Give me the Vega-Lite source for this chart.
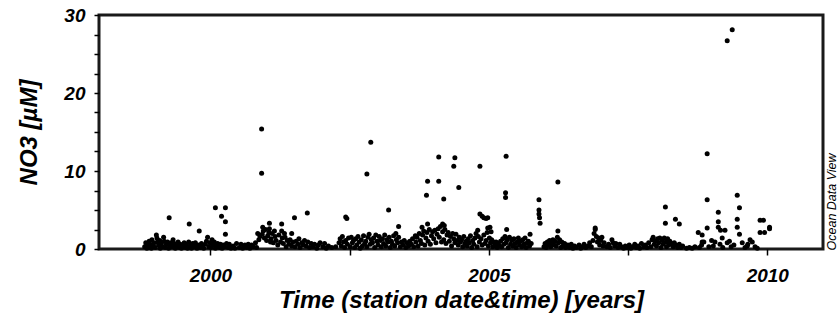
{
"$schema": "https://vega.github.io/schema/vega-lite/v6.json",
"width": 724, "height": 234,
"autosize": {"type": "none"},
"padding": {"left": 99, "top": 15, "right": 15, "bottom": 70},
"background": "white",
"config": {"view": {"stroke": "#1a1a1a", "strokeWidth": 3}, "font": "Liberation Sans"},
"data": {"values": [
{"t":2000.92,"v":15.4},{"t":2000.92,"v":9.7},{"t":2002.88,"v":13.7},{"t":2002.81,"v":9.6},{"t":2004.10,"v":11.8},{"t":2004.39,"v":11.7},{"t":2004.37,"v":10.6},{"t":2004.84,"v":10.6},{"t":2005.31,"v":11.9},{"t":2005.30,"v":7.2},{"t":2005.30,"v":6.6},{"t":2006.24,"v":8.6},{"t":2005.90,"v":6.3},{"t":2005.90,"v":5.0},{"t":2005.90,"v":4.5},{"t":2005.91,"v":4.0},{"t":2005.92,"v":3.3},{"t":2003.88,"v":6.9},{"t":2003.90,"v":8.7},{"t":2004.10,"v":8.7},{"t":2004.19,"v":6.4},{"t":2004.46,"v":7.9},{"t":2003.20,"v":5.0},{"t":2002.43,"v":4.1},{"t":2002.45,"v":3.9},{"t":2004.84,"v":4.5},{"t":2004.88,"v":4.2},{"t":2004.91,"v":4.0},{"t":2004.95,"v":3.9},{"t":2004.98,"v":4.0},{"t":2003.38,"v":2.9},{"t":2003.33,"v":2.0},{"t":2003.80,"v":2.8},{"t":2003.90,"v":3.2},{"t":2004.17,"v":3.2},{"t":2004.20,"v":3.0},{"t":2004.80,"v":2.4},{"t":2004.98,"v":2.7},{"t":2005.02,"v":2.8},{"t":2005.04,"v":2.2},{"t":2005.32,"v":2.5},{"t":2005.74,"v":1.9},{"t":2006.24,"v":2.3},{"t":2006.91,"v":2.7},{"t":2008.92,"v":12.2},{"t":2008.92,"v":6.3},{"t":2008.17,"v":5.4},{"t":2008.17,"v":3.3},{"t":2008.35,"v":3.8},{"t":2008.42,"v":3.2},{"t":2008.76,"v":2.1},{"t":2008.83,"v":1.8},{"t":2008.83,"v":0.9},{"t":2008.92,"v":2.7},{"t":2009.12,"v":4.7},{"t":2009.12,"v":3.5},{"t":2009.12,"v":2.8},{"t":2009.16,"v":2.4},{"t":2009.24,"v":2.4},{"t":2009.06,"v":0.9},{"t":2009.19,"v":1.4},{"t":2009.28,"v":0.8},{"t":2009.46,"v":6.9},{"t":2009.50,"v":5.3},{"t":2009.46,"v":3.8},{"t":2009.46,"v":2.8},{"t":2009.50,"v":1.9},{"t":2009.69,"v":1.2},{"t":2009.64,"v":0.4},{"t":2009.87,"v":3.7},{"t":2009.93,"v":3.7},{"t":2009.87,"v":2.1},{"t":2009.95,"v":2.1},{"t":2010.04,"v":2.8},{"t":2010.04,"v":2.6},{"t":2009.37,"v":28.1},{"t":2009.28,"v":26.7},{"t":1999.26,"v":4.0},{"t":1999.62,"v":3.2},{"t":1999.80,"v":2.3},{"t":2000.09,"v":5.3},{"t":2000.27,"v":5.3},{"t":2000.20,"v":4.2},{"t":2000.27,"v":3.5},{"t":2000.27,"v":1.9},{"t":2000.85,"v":2.0},{"t":2000.94,"v":2.8},{"t":2001.06,"v":3.3},{"t":2001.06,"v":2.6},{"t":2001.15,"v":2.3},{"t":2001.28,"v":3.2},{"t":2001.28,"v":2.3},{"t":2001.33,"v":2.0},{"t":2001.51,"v":4.0},{"t":2001.46,"v":2.0},{"t":2001.74,"v":4.6},
{"t":1998.82,"v":0.3},{"t":1998.84,"v":0.8},{"t":1998.86,"v":0.1},{"t":1998.88,"v":0.5},{"t":1998.9,"v":1.0},{"t":1998.9,"v":0.2},
{"t":1998.92,"v":0.6},{"t":1998.94,"v":0.1},{"t":1998.95,"v":1.2},{"t":1998.97,"v":0.4},{"t":1998.99,"v":0.8},
{"t":1999.01,"v":0.2},{"t":1999.03,"v":1.8},{"t":1999.04,"v":1.4},{"t":1999.05,"v":0.9},{"t":1999.07,"v":0.5},{"t":1999.09,"v":1.1},{"t":1999.1,"v":0.1},
{"t":1999.12,"v":0.7},{"t":1999.14,"v":0.3},{"t":1999.16,"v":1.5},{"t":1999.17,"v":1.0},{"t":1999.19,"v":0.2},
{"t":1999.21,"v":0.6},{"t":1999.23,"v":0.9},{"t":1999.25,"v":0.1},{"t":1999.27,"v":0.5},{"t":1999.29,"v":0.8},
{"t":1999.31,"v":0.3},{"t":1999.33,"v":1.2},{"t":1999.35,"v":0.7},{"t":1999.37,"v":0.1},{"t":1999.39,"v":0.4},
{"t":1999.42,"v":0.9},{"t":1999.44,"v":0.2},{"t":1999.46,"v":0.6},{"t":1999.48,"v":0.1},
{"t":1999.51,"v":0.5},{"t":1999.53,"v":0.8},{"t":1999.55,"v":0.2},{"t":1999.57,"v":0.6},{"t":1999.59,"v":0.1},
{"t":1999.61,"v":0.9},{"t":1999.64,"v":0.4},{"t":1999.66,"v":0.1},{"t":1999.68,"v":0.7},
{"t":1999.71,"v":0.3},{"t":1999.73,"v":0.8},{"t":1999.76,"v":0.1},{"t":1999.78,"v":0.5},
{"t":1999.82,"v":0.2},{"t":1999.84,"v":0.7},{"t":1999.86,"v":0.4},{"t":1999.88,"v":0.1},
{"t":1999.91,"v":0.6},{"t":1999.93,"v":1.0},{"t":1999.95,"v":1.5},{"t":1999.97,"v":0.3},{"t":1999.99,"v":0.8},
{"t":2000.01,"v":0.2},{"t":2000.03,"v":1.2},{"t":2000.05,"v":0.5},{"t":2000.07,"v":0.9},{"t":2000.09,"v":0.1},
{"t":2000.11,"v":0.4},{"t":2000.13,"v":0.7},{"t":2000.16,"v":0.2},{"t":2000.18,"v":0.6},
{"t":2000.21,"v":0.1},{"t":2000.23,"v":0.5},{"t":2000.25,"v":0.3},{"t":2000.29,"v":0.7},
{"t":2000.32,"v":0.2},{"t":2000.34,"v":0.6},{"t":2000.37,"v":0.1},
{"t":2000.41,"v":0.4},{"t":2000.44,"v":0.1},{"t":2000.47,"v":0.7},
{"t":2000.52,"v":0.2},{"t":2000.55,"v":0.6},{"t":2000.58,"v":0.1},
{"t":2000.62,"v":0.5},{"t":2000.65,"v":0.2},{"t":2000.68,"v":0.6},
{"t":2000.71,"v":0.1},{"t":2000.74,"v":0.5},{"t":2000.77,"v":0.3},
{"t":2000.81,"v":0.8},{"t":2000.83,"v":0.2},{"t":2000.87,"v":1.2},{"t":2000.89,"v":1.6},
{"t":2000.93,"v":1.9},{"t":2000.95,"v":2.3},{"t":2000.97,"v":1.4},{"t":2000.99,"v":2.5},
{"t":2001.01,"v":1.1},{"t":2001.03,"v":1.7},{"t":2001.05,"v":2.1},{"t":2001.08,"v":0.9},{"t":2001.09,"v":1.3},
{"t":2001.11,"v":2.0},{"t":2001.13,"v":0.8},{"t":2001.16,"v":1.6},{"t":2001.18,"v":1.1},
{"t":2001.21,"v":0.5},{"t":2001.23,"v":1.8},{"t":2001.26,"v":0.9},{"t":2001.29,"v":1.4},
{"t":2001.31,"v":0.7},{"t":2001.34,"v":1.5},{"t":2001.36,"v":0.3},{"t":2001.38,"v":1.1},
{"t":2001.41,"v":0.6},{"t":2001.43,"v":1.2},{"t":2001.46,"v":0.4},{"t":2001.48,"v":0.9},
{"t":2001.52,"v":0.3},{"t":2001.54,"v":1.0},{"t":2001.57,"v":0.6},{"t":2001.59,"v":1.3},
{"t":2001.61,"v":0.2},{"t":2001.64,"v":0.8},{"t":2001.67,"v":0.5},{"t":2001.69,"v":1.1},
{"t":2001.72,"v":0.4},{"t":2001.75,"v":0.9},{"t":2001.78,"v":0.2},
{"t":2001.81,"v":0.7},{"t":2001.84,"v":0.3},{"t":2001.87,"v":0.6},
{"t":2001.91,"v":0.1},{"t":2001.94,"v":0.5},{"t":2001.97,"v":0.8},
{"t":2002.02,"v":0.3},{"t":2002.05,"v":0.7},{"t":2002.08,"v":0.1},
{"t":2002.12,"v":0.4},{"t":2002.18,"v":0.2},{"t":2002.25,"v":0.3},
{"t":2002.31,"v":0.8},{"t":2002.33,"v":1.3},{"t":2002.35,"v":0.4},{"t":2002.37,"v":1.6},{"t":2002.39,"v":0.9},
{"t":2002.41,"v":0.2},{"t":2002.43,"v":1.1},{"t":2002.46,"v":0.6},{"t":2002.48,"v":1.4},
{"t":2002.51,"v":0.3},{"t":2002.53,"v":1.5},{"t":2002.55,"v":0.8},{"t":2002.57,"v":1.1},{"t":2002.59,"v":0.2},
{"t":2002.61,"v":1.3},{"t":2002.63,"v":0.5},{"t":2002.65,"v":1.6},{"t":2002.67,"v":0.9},{"t":2002.69,"v":0.1},
{"t":2002.71,"v":1.2},{"t":2002.73,"v":0.4},{"t":2002.75,"v":1.7},{"t":2002.77,"v":0.7},{"t":2002.79,"v":1.0},
{"t":2002.81,"v":0.3},{"t":2002.83,"v":1.5},{"t":2002.85,"v":1.9},{"t":2002.87,"v":0.6},{"t":2002.89,"v":1.2},
{"t":2002.91,"v":0.8},{"t":2002.93,"v":1.4},{"t":2002.95,"v":0.2},{"t":2002.97,"v":1.8},{"t":2002.99,"v":1.0},
{"t":2003.01,"v":0.5},{"t":2003.03,"v":1.6},{"t":2003.05,"v":1.1},{"t":2003.07,"v":0.3},{"t":2003.09,"v":1.3},
{"t":2003.11,"v":0.7},{"t":2003.13,"v":1.8},{"t":2003.15,"v":0.4},{"t":2003.17,"v":1.2},{"t":2003.19,"v":0.9},
{"t":2003.21,"v":1.5},{"t":2003.23,"v":0.2},{"t":2003.25,"v":1.0},{"t":2003.27,"v":0.6},{"t":2003.29,"v":1.7},
{"t":2003.31,"v":0.4},{"t":2003.34,"v":1.2},{"t":2003.36,"v":0.8},{"t":2003.38,"v":1.5},
{"t":2003.41,"v":0.3},{"t":2003.43,"v":0.9},{"t":2003.46,"v":0.5},{"t":2003.48,"v":1.1},
{"t":2003.51,"v":0.2},{"t":2003.53,"v":0.8},{"t":2003.56,"v":0.4},{"t":2003.58,"v":1.0},
{"t":2003.61,"v":0.6},{"t":2003.63,"v":1.3},{"t":2003.65,"v":0.3},{"t":2003.68,"v":1.7},{"t":2003.69,"v":0.9},
{"t":2003.71,"v":1.5},{"t":2003.73,"v":0.4},{"t":2003.75,"v":2.0},{"t":2003.77,"v":1.1},{"t":2003.79,"v":0.7},
{"t":2003.81,"v":1.8},{"t":2003.83,"v":2.3},{"t":2003.85,"v":0.5},{"t":2003.87,"v":1.4},{"t":2003.89,"v":2.1},
{"t":2003.91,"v":1.0},{"t":2003.93,"v":2.5},{"t":2003.95,"v":0.6},{"t":2003.97,"v":1.7},{"t":2003.99,"v":2.2},
{"t":2004.01,"v":1.3},{"t":2004.03,"v":2.4},{"t":2004.05,"v":0.8},{"t":2004.07,"v":1.9},{"t":2004.09,"v":2.6},
{"t":2004.11,"v":1.5},{"t":2004.13,"v":2.9},{"t":2004.15,"v":0.9},{"t":2004.17,"v":2.2},{"t":2004.19,"v":1.2},
{"t":2004.21,"v":2.5},{"t":2004.23,"v":0.7},{"t":2004.25,"v":1.8},{"t":2004.27,"v":2.1},{"t":2004.29,"v":1.0},
{"t":2004.31,"v":1.6},{"t":2004.33,"v":0.4},{"t":2004.35,"v":2.0},{"t":2004.37,"v":1.3},{"t":2004.39,"v":0.8},
{"t":2004.41,"v":1.9},{"t":2004.43,"v":1.1},{"t":2004.45,"v":0.5},{"t":2004.47,"v":1.5},{"t":2004.49,"v":0.9},
{"t":2004.51,"v":1.2},{"t":2004.53,"v":0.3},{"t":2004.55,"v":1.6},{"t":2004.57,"v":0.7},{"t":2004.59,"v":1.0},
{"t":2004.61,"v":0.4},{"t":2004.63,"v":1.3},{"t":2004.65,"v":0.8},{"t":2004.67,"v":1.7},{"t":2004.69,"v":0.2},
{"t":2004.71,"v":1.1},{"t":2004.73,"v":0.6},{"t":2004.75,"v":1.4},{"t":2004.77,"v":2.0},{"t":2004.79,"v":0.3},
{"t":2004.81,"v":1.6},{"t":2004.83,"v":0.9},{"t":2004.86,"v":1.3},{"t":2004.88,"v":0.5},
{"t":2004.91,"v":1.8},{"t":2004.93,"v":0.7},{"t":2004.95,"v":1.1},{"t":2004.97,"v":2.1},{"t":2004.99,"v":0.4},
{"t":2005.01,"v":1.4},{"t":2005.03,"v":0.8},{"t":2005.05,"v":1.2},{"t":2005.07,"v":0.3},{"t":2005.09,"v":0.9},
{"t":2005.11,"v":0.5},{"t":2005.13,"v":0.9},{"t":2005.15,"v":0.2},{"t":2005.17,"v":0.7},{"t":2005.19,"v":0.4},
{"t":2005.21,"v":1.0},{"t":2005.23,"v":0.3},{"t":2005.25,"v":1.3},{"t":2005.27,"v":0.6},{"t":2005.29,"v":1.6},
{"t":2005.31,"v":0.8},{"t":2005.33,"v":1.2},{"t":2005.35,"v":0.2},{"t":2005.37,"v":1.5},{"t":2005.39,"v":0.6},
{"t":2005.41,"v":1.1},{"t":2005.43,"v":0.4},{"t":2005.45,"v":1.3},{"t":2005.47,"v":0.7},{"t":2005.49,"v":0.2},
{"t":2005.51,"v":0.9},{"t":2005.53,"v":1.4},{"t":2005.55,"v":0.5},{"t":2005.57,"v":1.0},{"t":2005.59,"v":0.3},
{"t":2005.61,"v":1.2},{"t":2005.63,"v":0.6},{"t":2005.65,"v":1.4},{"t":2005.67,"v":0.2},{"t":2005.69,"v":0.8},
{"t":2005.71,"v":1.0},{"t":2005.73,"v":0.4},{"t":2005.76,"v":0.7},
{"t":2005.99,"v":0.3},{"t":2006.01,"v":0.7},{"t":2006.03,"v":0.2},{"t":2006.05,"v":0.9},{"t":2006.07,"v":0.5},{"t":2006.09,"v":1.1},
{"t":2006.11,"v":0.3},{"t":2006.13,"v":0.8},{"t":2006.15,"v":1.2},{"t":2006.17,"v":0.5},{"t":2006.19,"v":1.0},
{"t":2006.21,"v":0.4},{"t":2006.23,"v":1.5},{"t":2006.25,"v":0.8},{"t":2006.27,"v":1.2},{"t":2006.29,"v":0.2},
{"t":2006.31,"v":0.9},{"t":2006.33,"v":0.4},{"t":2006.36,"v":0.7},{"t":2006.38,"v":0.2},
{"t":2006.42,"v":0.5},{"t":2006.45,"v":0.2},{"t":2006.48,"v":0.6},
{"t":2006.51,"v":0.1},{"t":2006.54,"v":0.4},{"t":2006.57,"v":0.2},
{"t":2006.62,"v":0.5},{"t":2006.65,"v":0.1},{"t":2006.68,"v":0.3},
{"t":2006.71,"v":0.6},{"t":2006.74,"v":0.2},{"t":2006.78,"v":0.4},
{"t":2006.81,"v":0.8},{"t":2006.84,"v":0.3},{"t":2006.87,"v":1.1},{"t":2006.89,"v":2.0},
{"t":2006.91,"v":2.5},{"t":2006.93,"v":1.6},{"t":2006.95,"v":0.9},{"t":2006.97,"v":1.4},{"t":2006.99,"v":0.5},
{"t":2007.01,"v":1.1},{"t":2007.03,"v":1.5},{"t":2007.05,"v":0.4},{"t":2007.07,"v":0.8},
{"t":2007.12,"v":0.3},{"t":2007.15,"v":0.6},{"t":2007.18,"v":0.2},
{"t":2007.21,"v":1.2},{"t":2007.23,"v":0.8},{"t":2007.26,"v":0.4},{"t":2007.28,"v":0.7},
{"t":2007.32,"v":0.2},{"t":2007.35,"v":0.6},{"t":2007.38,"v":0.3},
{"t":2007.42,"v":0.1},{"t":2007.45,"v":0.4},{"t":2007.48,"v":0.2},
{"t":2007.52,"v":0.5},{"t":2007.55,"v":0.1},{"t":2007.58,"v":0.3},
{"t":2007.62,"v":0.6},{"t":2007.65,"v":0.2},{"t":2007.68,"v":0.4},
{"t":2007.71,"v":0.1},{"t":2007.74,"v":0.7},{"t":2007.78,"v":0.3},
{"t":2007.81,"v":0.5},{"t":2007.84,"v":0.2},{"t":2007.87,"v":0.8},
{"t":2007.91,"v":0.3},{"t":2007.93,"v":1.2},{"t":2007.95,"v":1.5},{"t":2007.97,"v":0.6},{"t":2007.99,"v":1.0},
{"t":2008.01,"v":0.4},{"t":2008.03,"v":1.3},{"t":2008.05,"v":0.8},{"t":2008.07,"v":1.4},{"t":2008.09,"v":0.2},
{"t":2008.11,"v":1.1},{"t":2008.13,"v":0.6},{"t":2008.15,"v":1.4},{"t":2008.18,"v":0.9},{"t":2008.19,"v":0.3},
{"t":2008.21,"v":1.3},{"t":2008.23,"v":0.5},{"t":2008.25,"v":1.0},{"t":2008.28,"v":0.7},
{"t":2008.31,"v":0.3},{"t":2008.33,"v":0.8},{"t":2008.36,"v":0.5},{"t":2008.39,"v":0.2},
{"t":2008.42,"v":0.6},{"t":2008.45,"v":0.2},{"t":2008.48,"v":0.4},
{"t":2008.55,"v":0.1},{"t":2008.6,"v":0.2},{"t":2008.65,"v":0.1},{"t":2008.7,"v":0.3},
{"t":2008.78,"v":0.2},{"t":2008.82,"v":0.5},{"t":2008.86,"v":0.9},{"t":2008.95,"v":0.3},{"t":2009.0,"v":1.1},{"t":2009.03,"v":0.4},{"t":2009.15,"v":0.6},{"t":2009.2,"v":0.2},{"t":2009.32,"v":1.0},{"t":2009.35,"v":0.3},{"t":2009.4,"v":0.5},{"t":2009.55,"v":0.8},{"t":2009.6,"v":0.2},{"t":2009.65,"v":0.6},{"t":2009.73,"v":0.9},{"t":2009.78,"v":0.3},{"t":2009.82,"v":0.1}
]},
"layer": [
{
"mark": {"type": "circle", "color": "black", "opacity": 1, "size": 25},
"encoding": {
"x": {"field": "t", "type": "quantitative", "scale": {"domain": [1998, 2011], "nice": false, "zero": false},
"axis": {"values": [2000, 2002.5, 2005, 2007.5, 2010], "labelExpr": "datum.value % 5 == 0 ? datum.value : ''", "grid": false, "domain": false, "tickColor": "black", "tickSize": 6, "tickWidth": 1.5, "labelFont": "Liberation Sans", "labelFontSize": 19, "labelFontStyle": "italic", "labelFontWeight": "bold", "labelColor": "black", "labelPadding": 11, "title": "Time (station date&time) [years]", "titleFont": "Liberation Sans", "titleFontSize": 24, "titleFontStyle": "italic", "titleFontWeight": "bold", "titleColor": "black", "titleY": 58, "titleBaseline": "alphabetic"}},
"y": {"field": "v", "type": "quantitative", "scale": {"domain": [0, 30], "nice": false},
"axis": {"values": [0, 2.5, 5, 7.5, 10, 12.5, 15, 17.5, 20, 22.5, 25, 27.5, 30], "labelExpr": "datum.value % 10 == 0 ? datum.value : ''", "grid": false, "domain": false, "tickColor": "black", "tickSize": 5, "tickWidth": 1.5, "labelFont": "Liberation Sans", "labelFontSize": 19, "labelFontStyle": "italic", "labelFontWeight": "bold", "labelColor": "black", "labelPadding": 9, "title": "NO3 [µM]", "titleFont": "Liberation Sans", "titleFontSize": 24, "titleFontStyle": "italic", "titleFontWeight": "bold", "titleColor": "black", "titleAngle": 270, "titleX": -63, "titleY": 117, "titleBaseline": "alphabetic", "titleAlign": "center"}}
}
},
{
"mark": {"type": "circle", "opacity": 0},
"encoding": {
"x": {"field": "t", "type": "quantitative"},
"y": {"field": "v", "type": "quantitative", "axis": {"orient": "right", "title": "Ocean Data View", "labels": false, "ticks": false, "domain": false, "grid": false, "titleFont": "Liberation Sans", "titleFontSize": 12.5, "titleFontStyle": "italic", "titleFontWeight": "normal", "titleColor": "black", "titleAngle": 270, "titleX": 12, "titleY": 235, "titleAlign": "left", "titleBaseline": "alphabetic"}}
}
}
],
"resolve": {"axis": {"y": "independent"}}
}
